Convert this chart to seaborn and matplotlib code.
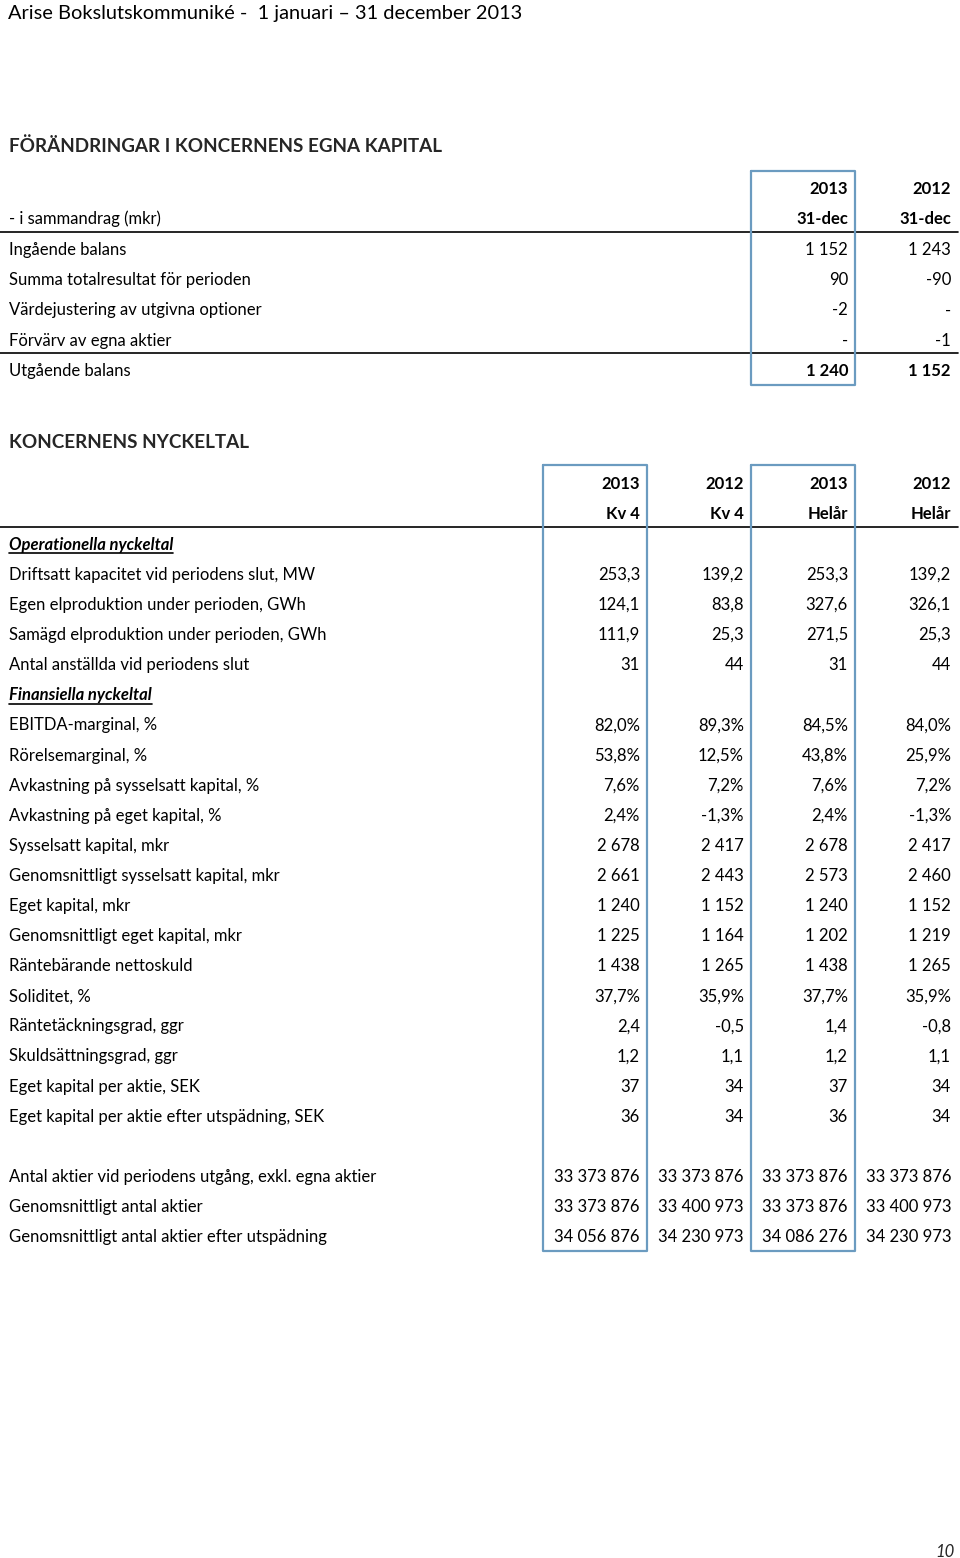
import matplotlib.pyplot as plt
import seaborn as sns

# --- data -------------------------------------------------------------
page_title = "Arise Bokslutskommuniké -  1 januari – 31 december 2013"
eq_title = "FÖRÄNDRINGAR I KONCERNENS EGNA KAPITAL"
eq_subtitle = "- i sammandrag (mkr)"
eq_years = ["2013", "2012"]
eq_dates = ["31-dec", "31-dec"]
eq_labels = [
    "Ingående balans",
    "Summa totalresultat för perioden",
    "Värdejustering av utgivna optioner",
    "Förvärv av egna aktier",
    "Utgående balans",
]
eq_2013 = ["1 152", "90", "-2", "-", "1 240"]
eq_2012 = ["1 243", "-90", "-", "-1", "1 152"]

kt_title = "KONCERNENS NYCKELTAL"
kt_years = ["2013", "2012", "2013", "2012"]
kt_periods = ["Kv 4", "Kv 4", "Helår", "Helår"]

ops_header = "Operationella nyckeltal"
ops_labels = [
    "Driftsatt kapacitet vid periodens slut, MW",
    "Egen elproduktion under perioden, GWh",
    "Samägd elproduktion under perioden, GWh",
    "Antal anställda vid periodens slut",
]
ops_kv4_2013 = ["253,3", "124,1", "111,9", "31"]
ops_kv4_2012 = ["139,2", "83,8", "25,3", "44"]
ops_year_2013 = ["253,3", "327,6", "271,5", "31"]
ops_year_2012 = ["139,2", "326,1", "25,3", "44"]

fin_header = "Finansiella nyckeltal"
fin_labels = [
    "EBITDA-marginal, %",
    "Rörelsemarginal, %",
    "Avkastning på sysselsatt kapital, %",
    "Avkastning på eget kapital, %",
    "Sysselsatt kapital, mkr",
    "Genomsnittligt sysselsatt kapital, mkr",
    "Eget kapital, mkr",
    "Genomsnittligt eget kapital, mkr",
    "Räntebärande nettoskuld",
    "Soliditet, %",
    "Räntetäckningsgrad, ggr",
    "Skuldsättningsgrad, ggr",
    "Eget kapital per aktie, SEK",
    "Eget kapital per aktie efter utspädning, SEK",
]
fin_kv4_2013 = ["82,0%", "53,8%", "7,6%", "2,4%", "2 678", "2 661", "1 240",
                "1 225", "1 438", "37,7%", "2,4", "1,2", "37", "36"]
fin_kv4_2012 = ["89,3%", "12,5%", "7,2%", "-1,3%", "2 417", "2 443", "1 152",
                "1 164", "1 265", "35,9%", "-0,5", "1,1", "34", "34"]
fin_year_2013 = ["84,5%", "43,8%", "7,6%", "2,4%", "2 678", "2 573", "1 240",
                 "1 202", "1 438", "37,7%", "1,4", "1,2", "37", "36"]
fin_year_2012 = ["84,0%", "25,9%", "7,2%", "-1,3%", "2 417", "2 460", "1 152",
                 "1 219", "1 265", "35,9%", "-0,8", "1,1", "34", "34"]

share_labels = [
    "Antal aktier vid periodens utgång, exkl. egna aktier",
    "Genomsnittligt antal aktier",
    "Genomsnittligt antal aktier efter utspädning",
]
share_kv4_2013 = ["33 373 876", "33 373 876", "34 056 876"]
share_kv4_2012 = ["33 373 876", "33 400 973", "34 230 973"]
share_year_2013 = ["33 373 876", "33 373 876", "34 086 276"]
share_year_2012 = ["33 373 876", "33 400 973", "34 230 973"]

page_number = "10"

# --- style ------------------------------------------------------------
sns.set_theme(style="white")
plt.rcParams["font.family"] = ["Lato", "DejaVu Sans"]

FS = 12.0
BOX = "#6b9bc0"
LEFT = 9
DY = 1.8  # visual centring offset for text
kt_cols = [640, 744, 848, 951]
eq_cols = [848, 951]

fig = plt.figure(figsize=(9.6, 15.58), dpi=100)
ax = fig.add_axes([0, 0, 1, 1])
ax.set_xlim(0, 960)
ax.set_ylim(1558, 0)
ax.axis("off")


def label(y, s, **kw):
    return ax.text(LEFT, y + DY, s, ha="left", va="center", fontsize=FS, color="black", **kw)


def values(y, cols, vals, **kw):
    for x, v in zip(cols, vals):
        ax.text(x, y + DY, v, ha="right", va="center", fontsize=FS, color="black", **kw)


def underlined(y, s):
    t = label(y, s, fontweight="bold", fontstyle="italic")
    fig.canvas.draw()
    bb = t.get_window_extent()
    ax.plot([LEFT, LEFT + bb.width], [y + 10, y + 10], color="black", lw=1.2)


def box(x0, x1, y0, y1):
    ax.plot([x0, x1, x1, x0, x0], [y0, y0, y1, y1, y0], color=BOX, lw=1.6)


ax.text(8, 13, page_title, ha="left", va="center", fontsize=14.4, color="black")

# --- equity table -----------------------------------------------------
ax.text(LEFT, 146, eq_title, ha="left", va="center", fontsize=13.6, fontweight="bold")
values(187, eq_cols, eq_years, fontweight="bold")
values(217, eq_cols, eq_dates, fontweight="bold")
label(217, eq_subtitle)
ax.plot([0, 958], [232, 232], color="black", lw=1.2)
pitch1 = 30.25
for i, (lab, a, b) in enumerate(zip(eq_labels, eq_2013, eq_2012)):
    y = 248 + i * pitch1
    bold = i == len(eq_labels) - 1
    if bold:
        ax.plot([0, 958], [353, 353], color="black", lw=1.2)
    label(y, lab)
    values(y, eq_cols, [a, b], fontweight="bold" if bold else "normal")
box(751, 855, 171, 385)

# --- key ratios -------------------------------------------------------
ax.text(LEFT, 442, kt_title, ha="left", va="center", fontsize=13.6, fontweight="bold")
values(482, kt_cols, kt_years, fontweight="bold")
values(512, kt_cols, kt_periods, fontweight="bold")
ax.plot([0, 958], [527, 527], color="black", lw=1.2)

pitch = 30.1
y0 = 543
underlined(y0, ops_header)
for i, lab in enumerate(ops_labels):
    y = y0 + (1 + i) * pitch
    label(y, lab)
    values(y, kt_cols, [ops_kv4_2013[i], ops_kv4_2012[i], ops_year_2013[i], ops_year_2012[i]])

underlined(y0 + 5 * pitch, fin_header)
for i, lab in enumerate(fin_labels):
    y = y0 + (6 + i) * pitch
    label(y, lab)
    values(y, kt_cols, [fin_kv4_2013[i], fin_kv4_2012[i], fin_year_2013[i], fin_year_2012[i]])

for i, lab in enumerate(share_labels):
    y = y0 + (21 + i) * pitch
    label(y, lab)
    values(y, kt_cols, [share_kv4_2013[i], share_kv4_2012[i], share_year_2013[i], share_year_2012[i]])

box(543, 647, 465, 1251)
box(751, 855, 465, 1251)

ax.text(955, 1552, page_number, ha="right", va="center", fontsize=12, fontstyle="italic")

fig.savefig("out.png", dpi=100, facecolor="white")
